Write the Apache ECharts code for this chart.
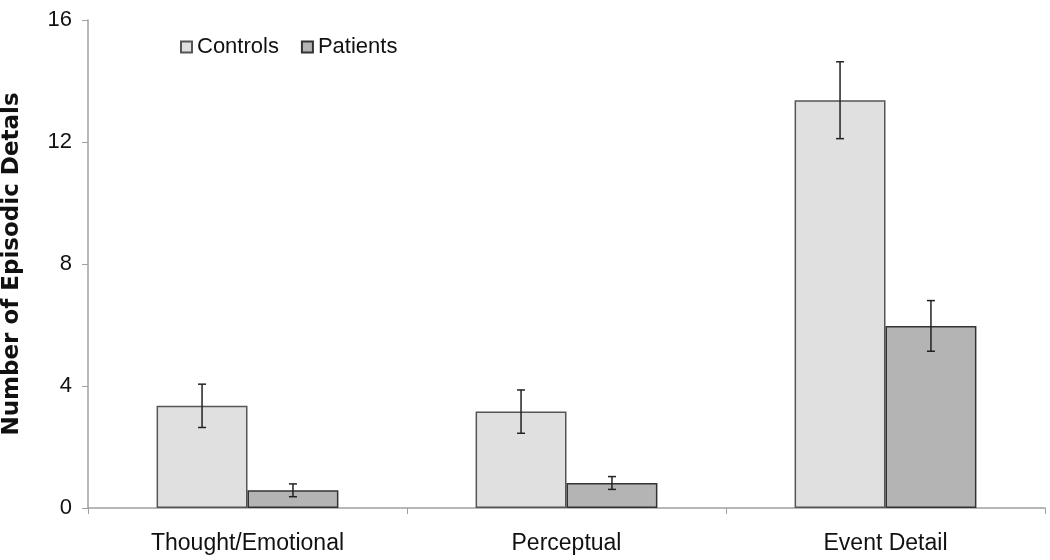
<!DOCTYPE html>
<html><head><meta charset="utf-8">
<script src="https://cdn.jsdelivr.net/npm/echarts@6/dist/echarts.min.js"></script>
<style>html,body{margin:0;padding:0;background:#fff}#c{width:1050px;height:560px}</style>
</head><body><div id="c"></div>
<script>
const categories = ['Thought/Emotional', 'Perceptual', 'Event Detail'];
const controls = [3.35, 3.16, 13.37];
const controlsErr = [0.71, 0.71, 1.26];
const patients = [0.58, 0.82, 5.97];
const patientsErr = [0.21, 0.21, 0.83];
const yTicks = [0, 4, 8, 12, 16];

const GAP = 0.43;
function errSeries(name, vals, errs, side) {
  return {
    type: 'custom', name: name + ' err', silent: true, z: 5,
    data: vals.map((v, i) => [i, v - errs[i], v + errs[i]]),
    renderItem: function (params, api) {
      const band = api.size([1, 0])[0];
      const bw = band * (1 - GAP) / 2;
      const lo = api.coord([api.value(0), api.value(1)]);
      const hi = api.coord([api.value(0), api.value(2)]);
      const x = lo[0] + side * bw / 2;
      const cap = 4;
      const st = { stroke: '#222', lineWidth: 1.5 };
      return { type: 'group', children: [
        { type: 'line', shape: { x1: x, y1: lo[1], x2: x, y2: hi[1] }, style: st },
        { type: 'line', shape: { x1: x - cap, y1: lo[1], x2: x + cap, y2: lo[1] }, style: st },
        { type: 'line', shape: { x1: x - cap, y1: hi[1], x2: x + cap, y2: hi[1] }, style: st }
      ]};
    }
  };
}

const FONT = 'Liberation Sans, Arial, sans-serif';
const chart = echarts.init(document.getElementById('c'));
chart.setOption({
  animation: false,
  textStyle: { fontFamily: FONT },
  grid: { left: 88, right: 5, top: 20, bottom: 52, containLabel: false, outerBoundsMode: 'none' },
  legend: {
    data: ['Controls', 'Patients'], left: 175, top: 31, icon: 'rect',
    itemWidth: 11, itemHeight: 11, itemGap: 22,
    textStyle: { fontSize: 22, color: '#111', fontFamily: FONT }
  },
  xAxis: {
    type: 'category', data: categories,
    axisLine: { lineStyle: { color: '#a0a0a0', width: 1.5 } },
    axisTick: { show: true, length: 6, lineStyle: { color: '#a0a0a0' } },
    axisLabel: { fontSize: 23, color: '#111', margin: 24 }
  },
  yAxis: {
    type: 'value', min: 0, max: 16, interval: 4,
    name: 'Number of Episodic Detals', nameLocation: 'middle', nameGap: 64,
    nameTextStyle: { fontSize: 23, fontWeight: 'bold', color: '#111', fontFamily: 'DejaVu Sans, sans-serif' },
    axisLine: { show: true, lineStyle: { color: '#a0a0a0', width: 1.5 } },
    axisTick: { show: true, length: 6, lineStyle: { color: '#a0a0a0' } },
    splitLine: { show: false },
    axisLabel: { fontSize: 22, color: '#111', margin: 16,
      formatter: v => yTicks.includes(v) ? String(v) : '' }
  },
  series: [
    { name: 'Controls', type: 'bar', data: controls, barGap: '0%', barCategoryGap: (GAP*100) + '%',
      itemStyle: { color: '#e0e0e0', borderColor: '#555', borderWidth: 1.5 } },
    { name: 'Patients', type: 'bar', data: patients,
      itemStyle: { color: '#b4b4b4', borderColor: '#333', borderWidth: 1.5 } },
    errSeries('Controls', controls, controlsErr, -1),
    errSeries('Patients', patients, patientsErr, 1)
  ]
});
</script></body></html>
